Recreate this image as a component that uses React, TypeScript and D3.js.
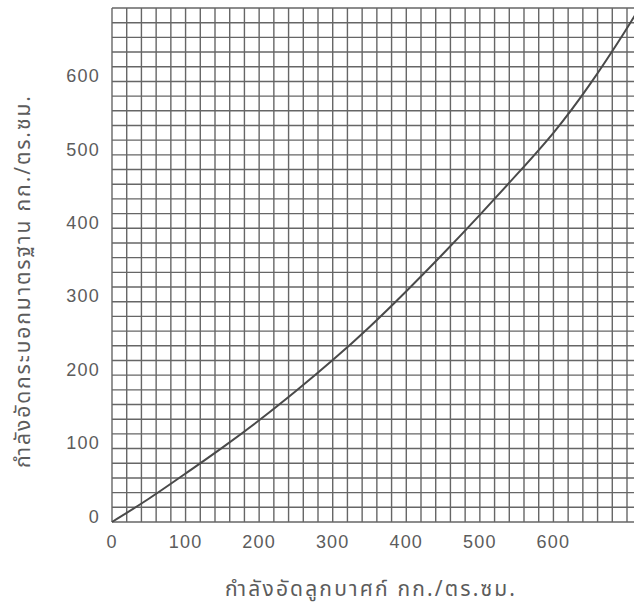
import React from "react";
import * as d3 from "d3";

// curve: cube strength (x) vs standard cylinder strength (y), kg/cm2
const cubeStrength = [0, 50, 100, 150, 200, 250, 300, 350, 400, 450, 500, 550, 600, 650, 700, 715];
const cylinderStrength = [0, 31, 66, 101, 138, 178, 220, 265, 314, 365, 418, 473, 528, 595, 672, 697];

const xTicks = [0, 100, 200, 300, 400, 500, 600];
const yTicks = [0, 100, 200, 300, 400, 500, 600];

const xTitle = "กำลังอัดลูกบาศก์ กก./ตร.ซม.";
const yTitle = "กำลังอัดกระบอกมาตรฐาน กก./ตร.ซม.";

export default function App() {
  const width = 634;
  const height = 608;

  const x = d3.scaleLinear().domain([0, 700]).range([112, 627]);
  const y = d3.scaleLinear().domain([0, 700]).range([522, 8]);

  const gridX = d3.range(0, 721, 20);
  const gridY = d3.range(0, 701, 20);

  const data = cubeStrength.map((v, i) => [v, cylinderStrength[i]] as [number, number]);
  const line = d3
    .line<[number, number]>()
    .x(d => x(d[0]))
    .y(d => y(d[1]))
    .curve(d3.curveBasis);

  const labelFont = "Liberation Sans, Arial, sans-serif";
  const thaiFont = "Noto Sans Thai, Noto Sans, DejaVu Sans, sans-serif";
  const ink = "#5c5c5c";

  return (
    <svg
      width={width}
      height={height}
      style={{ position: "absolute", left: 0, top: 0, background: "#fff" }}
    >
      <rect width={width} height={height} fill="#fff" />
      <g stroke="#666" strokeWidth={1.4}>
        {gridX.map(v => (
          <line key={"gx" + v} x1={x(v)} x2={x(v)} y1={y(0)} y2={y(700)} />
        ))}
        {gridY.map(v => (
          <line key={"gy" + v} x1={x(0)} x2={width} y1={y(v)} y2={y(v)} />
        ))}
      </g>

      <path d={line(data) || ""} fill="none" stroke="#4a4a4a" strokeWidth={2} />

      {/* y tick labels */}
      {yTicks.map(v => (
        <text
          key={"yt" + v}
          x={100}
          y={y(v) - 4}
          textAnchor="end"
          dominantBaseline="middle"
          fontFamily={labelFont}
          fontSize={18}
          letterSpacing={1.2}
          fill={ink}
        >
          {v}
        </text>
      ))}

      {/* x tick labels */}
      {xTicks.map(v => (
        <text
          key={"xt" + v}
          x={x(v)}
          y={543}
          textAnchor="middle"
          dominantBaseline="middle"
          fontFamily={labelFont}
          fontSize={18}
          letterSpacing={1.2}
          fill={ink}
        >
          {v}
        </text>
      ))}

      <text
        x={370}
        y={596}
        textAnchor="middle"
        fontFamily={thaiFont}
        fontSize={21}
        textLength={290}
        lengthAdjust="spacing"
        fill={ink}
      >
        {xTitle}
      </text>

      <text
        transform={`translate(30, 282) rotate(-90)`}
        textAnchor="middle"
        fontFamily={thaiFont}
        fontSize={21}
        textLength={372}
        lengthAdjust="spacing"
        fill={ink}
      >
        {yTitle}
      </text>
    </svg>
  );
}
